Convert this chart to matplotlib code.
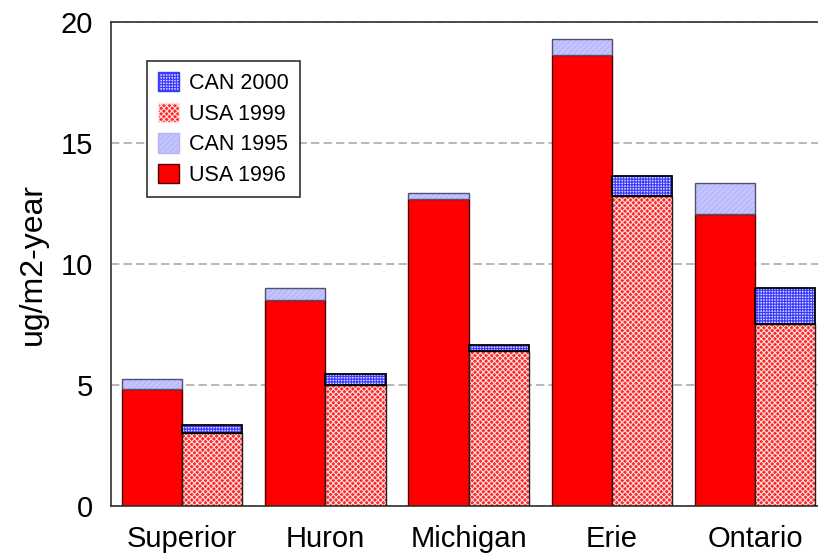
import numpy as np
import matplotlib
matplotlib.use('Agg')
import matplotlib.pyplot as plt
from matplotlib.patches import Patch

lakes = ['Superior', 'Huron', 'Michigan', 'Erie', 'Ontario']
usa_1996 = [4.84, 8.53, 12.67, 18.63, 12.05]
can_1995 = [0.42, 0.46, 0.25, 0.67, 1.28]
usa_1999 = [3.02, 5.01, 6.42, 12.80, 7.54]
can_2000 = [0.33, 0.46, 0.25, 0.82, 1.45]

plt.rcParams['font.family'] = ['Liberation Sans', 'DejaVu Sans']
plt.rcParams['hatch.linewidth'] = 0.8
plt.rcParams['lines.scale_dashes'] = False

fig = plt.figure(figsize=(8.18, 5.55), dpi=100)
ax = fig.add_axes([0.1357, 0.0883, 0.8643, 0.872])

x = np.arange(len(lakes))
w = 0.42

# colours / hatches per series
sty_usa96 = dict(face='#ff0000', edge='#500000')
sty_can95 = dict(face='#c4c4ff', hatch='//////', hcol='#b4b4f6', edge='#505070')
sty_usa99 = dict(face='#ff2828', hatch='xxxxxx', hcol='#ffe0e0', edge='#202020')
sty_can00 = dict(face='#d4d4ff', hatch='++++++', hcol='#3a3aff', edge='black')


def hatched(xpos, h, bottom, s, lw=1.0):
    # hatch colour follows edgecolor, so fill+hatch first, outline on top
    ax.bar(xpos, h, w, bottom=bottom, color=s['face'], hatch=s['hatch'],
           edgecolor=s['hcol'], linewidth=0, zorder=2)
    ax.bar(xpos, h, w, bottom=bottom, fill=False,
           edgecolor=s['edge'], linewidth=lw, zorder=3)


ax.bar(x - w / 2, usa_1996, w, color=sty_usa96['face'],
       edgecolor=sty_usa96['edge'], linewidth=1.0, zorder=2)
hatched(x - w / 2, can_1995, usa_1996, sty_can95)
hatched(x + w / 2, usa_1999, 0, sty_usa99)
hatched(x + w / 2, can_2000, usa_1999, sty_can00, 1.3)

ax.set_xlim(-0.497, 4.44)
ax.set_ylim(0, 20)
ax.set_yticks([0, 5, 10, 15, 20])
ax.set_xticks(x)
ax.set_xticklabels(lakes)
ax.tick_params(axis='both', length=0, labelsize=21)
ax.tick_params(axis='x', pad=14)
ax.tick_params(axis='y', pad=13)
ax.yaxis.grid(True, linestyle=(0, (6, 3)), color='#b8b8b8', linewidth=1.4, zorder=0)
ax.set_axisbelow(True)
ax.set_ylabel('ug/m2-year', fontsize=23, labelpad=9)
for s in ['left', 'bottom', 'top']:
    ax.spines[s].set_color('#303030')
    ax.spines[s].set_linewidth(1.2)
ax.spines['right'].set_visible(False)

handles = [
    Patch(facecolor=sty_can00['face'], hatch=sty_can00['hatch'], edgecolor=sty_can00['hcol'], label='CAN 2000'),
    Patch(facecolor=sty_usa99['face'], hatch=sty_usa99['hatch'], edgecolor=sty_usa99['hcol'], label='USA 1999'),
    Patch(facecolor=sty_can95['face'], hatch=sty_can95['hatch'], edgecolor=sty_can95['hcol'], label='CAN 1995'),
    Patch(facecolor=sty_usa96['face'], edgecolor=sty_usa96['edge'], label='USA 1996'),
]
leg = ax.legend(handles=handles, loc='upper left', bbox_to_anchor=(0.051, 0.919),
                borderaxespad=0, fontsize=15.5, frameon=True, fancybox=False,
                edgecolor='#303030', framealpha=1,
                handlelength=1.0, handleheight=1.0, labelspacing=0.4,
                borderpad=0.5, handletextpad=0.45)
leg.get_frame().set_linewidth(1.2)

fig.savefig('out.png', dpi=100)
